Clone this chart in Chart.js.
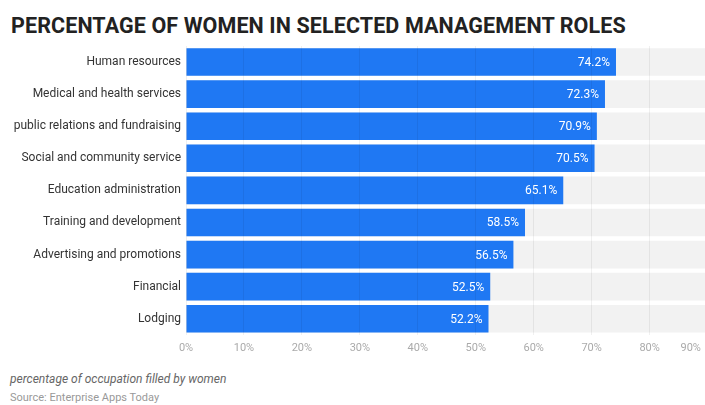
<!DOCTYPE html>
<html>
<head>
<meta charset="utf-8">
<script src="https://cdn.jsdelivr.net/npm/chart.js@4/dist/chart.umd.min.js"></script>
<style>
  html, body { margin: 0; padding: 0; background: #fff; overflow: hidden; }
  body { width: 705px; height: 405px; position: relative; font-family: Roboto, sans-serif; }
  #title { position: absolute; left: 11px; top: 13px; font-size: 21.5px; font-weight: 700; color: #222; letter-spacing: 0.1px; white-space: nowrap; }
  #wrap { position: absolute; left: 0; top: 40px; width: 705px; height: 330px; }
  #note { position: absolute; left: 10px; top: 372px; font-size: 12px; font-style: italic; color: #666; }
  #source { position: absolute; left: 10px; top: 391px; font-size: 11px; color: #999; }
</style>
</head>
<body>
<div id="title">PERCENTAGE OF WOMEN IN SELECTED MANAGEMENT ROLES</div>
<div id="wrap"><canvas id="chart"></canvas></div>
<div id="note">percentage of occupation filled by women</div>
<div id="source">Source: Enterprise Apps Today</div>
<script>
const roles = [
  'Human resources',
  'Medical and health services',
  'public relations and fundraising',
  'Social and community service',
  'Education administration',
  'Training and development',
  'Advertising and promotions',
  'Financial',
  'Lodging'
];
const womenShare = [74.2, 72.3, 70.9, 70.5, 65.1, 58.5, 56.5, 52.5, 52.2];
const trackValues = [100, 100, 100, 100, 100, 100, 100, 100, 100];
const axisTicks = [0, 10, 20, 30, 40, 50, 60, 70, 80, 90];

const blue = '#1f78f3';
const track = '#f2f2f2';

const valueLabels = {
  id: 'valueLabels',
  afterDatasetsDraw(chart) {
    const ctx = chart.ctx;
    const meta = chart.getDatasetMeta(0);
    ctx.save();
    ctx.font = '12px Roboto';
    ctx.fillStyle = '#fff';
    ctx.textAlign = 'right';
    ctx.textBaseline = 'middle';
    meta.data.forEach((bar, i) => {
      ctx.fillText(womenShare[i] + '%', bar.x - 6, bar.y + 1);
    });
    ctx.restore();
  }
};

new Chart(document.getElementById('chart'), {
  type: 'bar',
  data: {
    labels: roles,
    datasets: [
      {
        data: womenShare,
        backgroundColor: blue,
        grouped: false,
        barPercentage: 0.86,
        categoryPercentage: 1
      },
      {
        data: trackValues,
        backgroundColor: track,
        grouped: false,
        barPercentage: 0.86,
        categoryPercentage: 1
      }
    ]
  },
  options: {
    indexAxis: 'y',
    responsive: true,
    maintainAspectRatio: false,
    animation: false,
    layout: { padding: { top: 6, right: 0, bottom: 8, left: 0 } },
    plugins: {
      legend: { display: false },
      tooltip: { enabled: false }
    },
    scales: {
      x: {
        min: 0,
        max: 89.56,
        border: { display: false },
        grid: { color: 'rgba(0,0,0,0.06)', drawTicks: false, z: 1 },
        ticks: {
          stepSize: 10,
          includeBounds: false,
          autoSkip: false,
          maxRotation: 0,
          padding: 7,
          color: '#aaa',
          font: { family: 'Roboto', size: 11 },
          callback: (v) => v === 90 ? '90%\u2003\u2003\u2003' : v + '%'
        },
        afterBuildTicks: (scale) => {
          scale.ticks = axisTicks.map(v => ({ value: v }));
        },
        afterFit: (scale) => {
          scale.paddingLeft = 0;
          scale.paddingRight = 0;
        }
      },
      y: {
        border: { display: false },
        grid: { display: false, drawTicks: false },
        ticks: {
          padding: 5,
          color: '#333',
          font: { family: 'Roboto', size: 12 }
        },
        afterFit: (scale) => {
          scale.width = 186;
          scale.paddingTop = 0;
          scale.paddingBottom = 0;
        }
      }
    }
  },
  plugins: [valueLabels]
});
</script>
</body>
</html>
